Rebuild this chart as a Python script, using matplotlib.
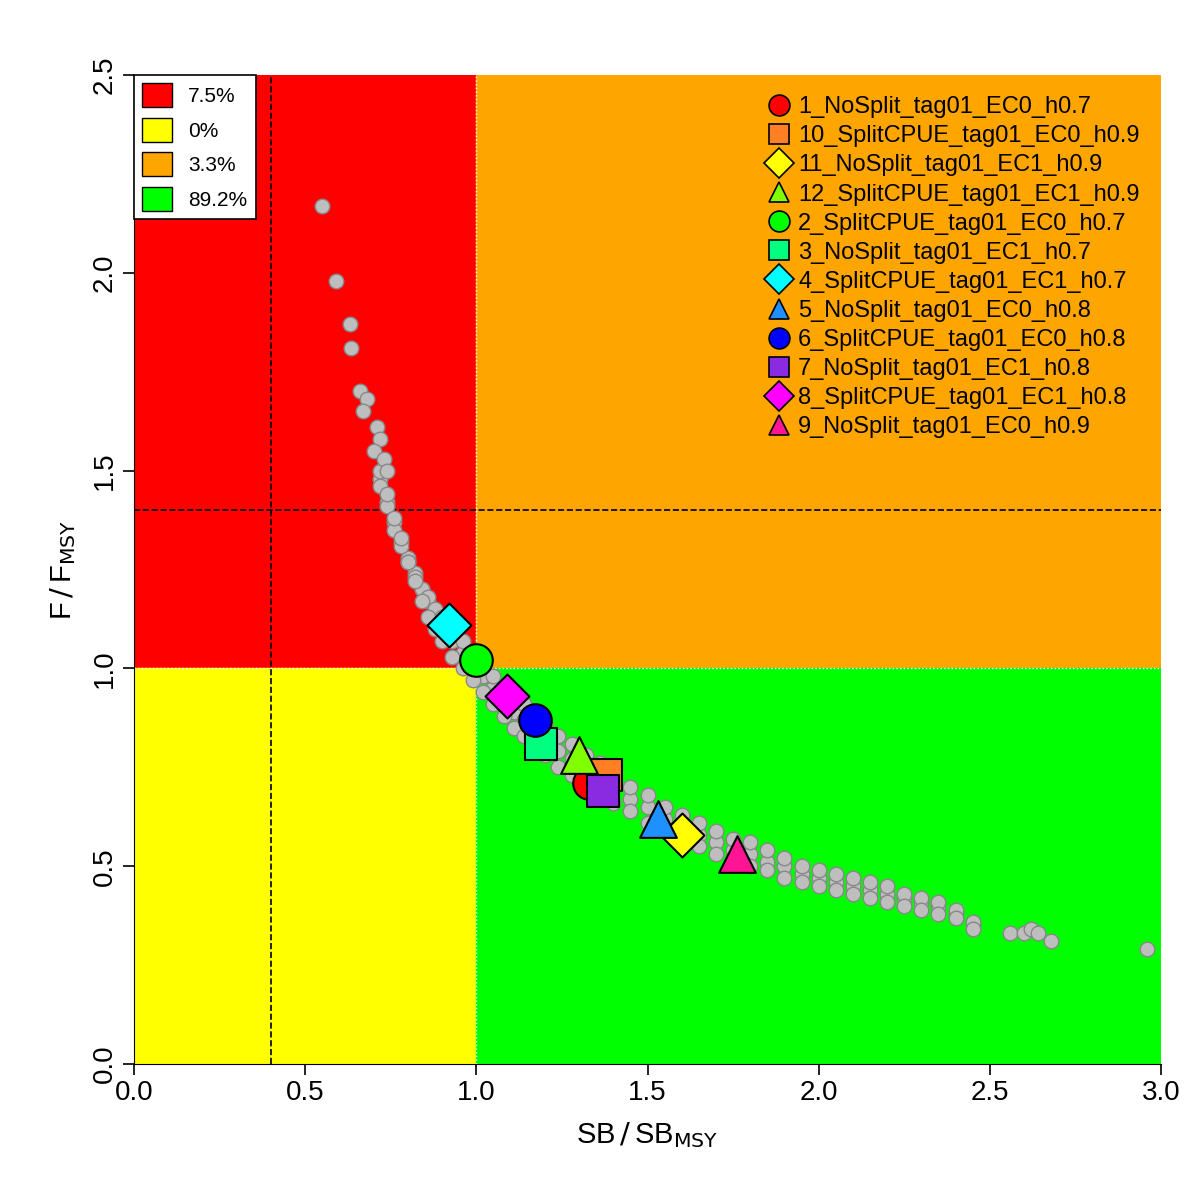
import matplotlib
matplotlib.use("Agg")
import matplotlib.pyplot as plt
from matplotlib.patches import Rectangle
from matplotlib.lines import Line2D

quad_labels = ["7.5%", "0%", "3.3%", "89.2%"]
quad_colors = ["#FF0000", "#FFFF00", "#FFA500", "#00FF00"]

cloud_x = [0.55, 0.59, 0.63, 0.635, 0.66, 0.68, 0.67, 0.71, 0.72, 0.70, 0.73, 0.74,
           2.56, 2.60, 2.62, 2.64, 2.68, 2.96]
cloud_y = [2.17, 1.98, 1.87, 1.81, 1.70, 1.68, 1.65, 1.61, 1.58, 1.55, 1.53, 1.50,
           0.33, 0.33, 0.34, 0.33, 0.31, 0.29]
band_x = [0.72, 0.74, 0.76, 0.78, 0.80, 0.82, 0.84, 0.86, 0.88, 0.90, 0.93, 0.96, 0.99,
          1.02, 1.05, 1.08, 1.11, 1.14, 1.17, 1.20, 1.24, 1.28, 1.32, 1.36, 1.40, 1.45,
          1.50, 1.55, 1.60, 1.65, 1.70, 1.75, 1.80, 1.85, 1.90, 1.95, 2.00, 2.05, 2.10,
          2.15, 2.20, 2.25, 2.30, 2.35, 2.40, 2.45]
band_mid = [1.48, 1.42, 1.37, 1.32, 1.28, 1.24, 1.20, 1.17, 1.14, 1.11, 1.07, 1.04, 1.01,
            0.98, 0.95, 0.92, 0.89, 0.87, 0.85, 0.82, 0.79, 0.77, 0.74, 0.72, 0.70, 0.67,
            0.65, 0.62, 0.60, 0.58, 0.56, 0.54, 0.53, 0.51, 0.50, 0.48, 0.47, 0.46, 0.45,
            0.44, 0.43, 0.42, 0.41, 0.40, 0.38, 0.35]
band_hi = [1.46, 1.41, 1.35, 1.31, 1.27, 1.23, 1.20, 1.18, 1.15, 1.13, 1.10, 1.07, 1.04,
           1.01, 0.98, 0.95, 0.93, 0.91, 0.88, 0.86, 0.83, 0.81, 0.78, 0.76, 0.73, 0.70,
           0.68, 0.65, 0.63, 0.61, 0.59, 0.57, 0.56, 0.54, 0.52, 0.50, 0.49, 0.48, 0.47,
           0.46, 0.45, 0.43, 0.42, 0.41, 0.39, 0.36]
band_lo = [1.50, 1.44, 1.38, 1.33, 1.27, 1.22, 1.17, 1.13, 1.10, 1.07, 1.03, 1.00, 0.97,
           0.94, 0.91, 0.88, 0.85, 0.83, 0.81, 0.78, 0.75, 0.73, 0.70, 0.68, 0.66, 0.64,
           0.61, 0.59, 0.57, 0.55, 0.53, 0.52, 0.50, 0.49, 0.47, 0.46, 0.45, 0.44, 0.43,
           0.42, 0.41, 0.40, 0.39, 0.38, 0.37, 0.34]

runs = ["1_NoSplit_tag01_EC0_h0.7", "10_SplitCPUE_tag01_EC0_h0.9", "11_NoSplit_tag01_EC1_h0.9",
        "12_SplitCPUE_tag01_EC1_h0.9", "2_SplitCPUE_tag01_EC0_h0.7", "3_NoSplit_tag01_EC1_h0.7",
        "4_SplitCPUE_tag01_EC1_h0.7", "5_NoSplit_tag01_EC0_h0.8", "6_SplitCPUE_tag01_EC0_h0.8",
        "7_NoSplit_tag01_EC1_h0.8", "8_SplitCPUE_tag01_EC1_h0.8", "9_NoSplit_tag01_EC0_h0.9"]
run_x = [1.33, 1.38, 1.60, 1.30, 1.00, 1.19, 0.92, 1.53, 1.17, 1.37, 1.09, 1.76]
run_y = [0.71, 0.73, 0.58, 0.78, 1.02, 0.81, 1.11, 0.62, 0.87, 0.69, 0.93, 0.53]
run_colors = ["#FF0000", "#FF7F24", "#FFFF00", "#7FFF00", "#00FF00", "#00FF7F",
              "#00FFFF", "#1E90FF", "#0000FF", "#8A2BE2", "#FF00FF", "#FF1493"]
run_markers = ["o", "s", "D", "^", "o", "s", "D", "^", "o", "s", "D", "^"]

plt.rcParams['font.family'] = ['Arial', 'Liberation Sans', 'DejaVu Sans']
fig = plt.figure(figsize=(12, 12), dpi=100)
ax = fig.add_axes([134/1200, 1-1064/1200, (1161-134)/1200, (1064-75)/1200])
ax.set_xlim(0, 3)
ax.set_ylim(0, 2.5)

ax.add_patch(Rectangle((0, 1), 1, 1.5, color=quad_colors[0], zorder=0))
ax.add_patch(Rectangle((0, 0), 1, 1, color=quad_colors[1], zorder=0))
ax.add_patch(Rectangle((1, 1), 2, 1.5, color=quad_colors[2], zorder=0))
ax.add_patch(Rectangle((1, 0), 2, 1, color=quad_colors[3], zorder=0))
ax.axvline(1, color="white", ls=":", lw=1, zorder=1)
ax.axhline(1, color="white", ls=":", lw=1, zorder=1)
ax.axvline(0.4, color="black", ls="--", lw=1.2, zorder=1)
ax.axhline(1.4, color="black", ls="--", lw=1.2, zorder=1)

gk = dict(s=110, c="#BEBEBE", edgecolors="#888888", linewidths=1, zorder=2)
for ys in (band_mid, band_hi, band_lo):
    ax.scatter(band_x, ys, **gk)
ax.scatter(cloud_x, cloud_y, **gk)

for x, y, c, m in zip(run_x, run_y, run_colors, run_markers):
    s = 700 if m == "^" else (500 if m == "D" else 550)
    ax.scatter([x], [y], s=s, c=c, marker=m, edgecolors="black", linewidths=1.5, zorder=3)

h1 = [Rectangle((0, 0), 1, 1, fc=c, ec="black") for c in quad_colors]
leg1 = ax.legend(h1, quad_labels, loc="upper left", fontsize=15, frameon=True,
                 fancybox=False, edgecolor="black", handlelength=1.4, handleheight=1.4,
                 borderaxespad=0, framealpha=1)
leg1.get_frame().set_linewidth(1.2)
ax.add_artist(leg1)
h2 = [Line2D([], [], ls="", marker=m, mfc=c, mec="black", ms=15, mew=1.2)
      for c, m in zip(run_colors, run_markers)]
ax.legend(h2, runs, loc="upper right", fontsize=17, frameon=False, handletextpad=0.2,
          labelspacing=0.3, borderaxespad=0.5, handlelength=1.2)

for s in ("top", "right"):
    ax.spines[s].set_visible(False)
ax.set_xticks([0, 0.5, 1, 1.5, 2, 2.5, 3])
ax.set_yticks([0, 0.5, 1, 1.5, 2, 2.5])
ax.set_xticklabels(["0.0", "0.5", "1.0", "1.5", "2.0", "2.5", "3.0"])
ax.set_yticklabels(["0.0", "0.5", "1.0", "1.5", "2.0", "2.5"], rotation=90, va="center")
ax.tick_params(labelsize=20, length=8, width=1.2)
ax.set_xlabel(r"SB$\,/\,$SB$_{\mathrm{MSY}}$", fontsize=21, labelpad=10)
ax.set_ylabel(r"F$\,/\,$F$_{\mathrm{MSY}}$", fontsize=21, labelpad=10)
fig.savefig("out.png", dpi=100)
